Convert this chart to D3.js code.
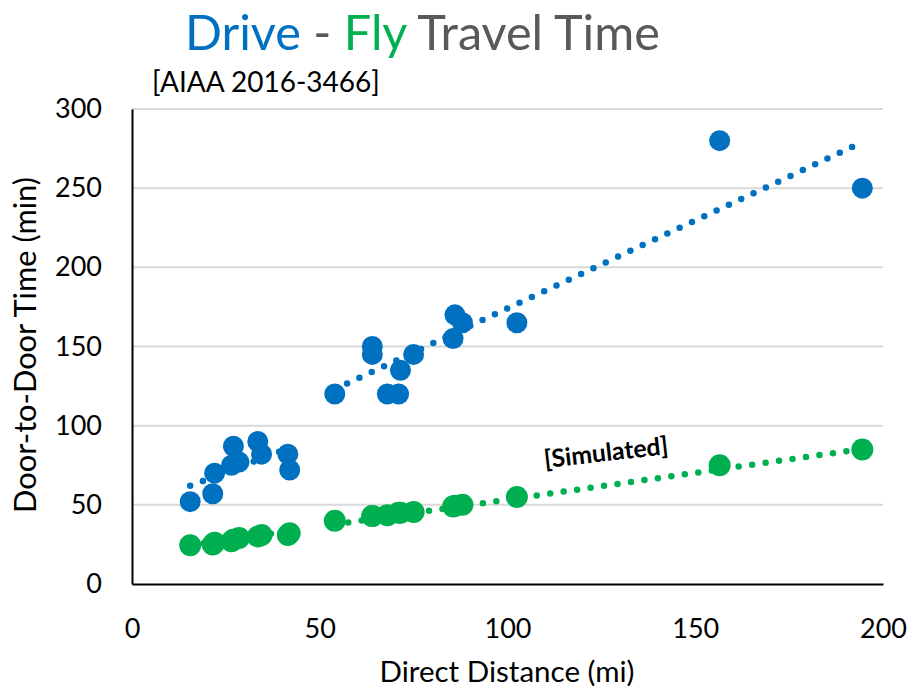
<!DOCTYPE html>
<html><head><meta charset="utf-8">
<script src="https://cdn.jsdelivr.net/npm/d3@7"></script>
<style>body{margin:0;background:#fff;} svg{display:block;font-family:Lato,"Open Sans",sans-serif;}</style>
</head><body><svg id="chart" width="911" height="688"></svg>
<script>
// ---- data ----
const distance  = [15.5,21.5,22,26.5,27,28.5,33.5,34.5,41.5,42,54,64,64,68,71,71.5,75,85.5,86,88,102.5,156.5,194.5];
const driveTime = [52,57,70,75,87,77,90,82,82,72,120,145,150,120,120,135,145,155,170,165,165,280,250];
const flyTime   = [24.5,25,26,27,28,29,30,31,31,32,40,43,43,43.5,45,45,45.5,49,49.5,50,55,75,85];
// trendline end points
const driveTrendShortX = [15.5,42],  driveTrendShortY = [62,86];
const driveTrendLongX  = [54,194.5], driveTrendLongY  = [123,279];
const flyTrendShortX   = [15.5,42],  flyTrendShortY   = [24.5,33.5];
const flyTrendLongX    = [54,194.5], flyTrendLongY    = [37.7,85.3];
const xTicks = [0,50,100,150,200];
const yTicks = [0,50,100,150,200,250,300];

const BLUE = "#0070C0", GREEN = "#00B050", GRAY = "#595959";
const svg = d3.select("#chart");
const L = 132, R = 883, T = 109, B = 584;
const x = d3.scaleLinear().domain([0,200]).range([L,R]);
const y = d3.scaleLinear().domain([0,300]).range([B,T]);

// gridlines
svg.append("g").selectAll("line").data(yTicks.filter(d=>d>0)).join("line")
  .attr("x1",L).attr("x2",R).attr("y1",d=>y(d)).attr("y2",d=>y(d))
  .attr("stroke","#d9d9d9").attr("stroke-width",2);

// axes
const yAxis = svg.append("g").attr("transform",`translate(${L},0)`)
  .call(d3.axisLeft(y).tickValues(yTicks).tickSize(0).tickPadding(30));
const xAxis = svg.append("g").attr("transform",`translate(0,${B})`)
  .call(d3.axisBottom(x).tickValues(xTicks).tickSize(0).tickPadding(35));
[yAxis,xAxis].forEach(a=>{
  a.select(".domain").attr("stroke","#000").attr("stroke-width",2);
  a.selectAll("text").attr("font-family","Lato").attr("font-size",27).attr("fill","#000");
});

// trendlines
const line = d3.line().x(d=>x(d[0])).y(d=>y(d[1]));
function trend(xs, ys, color){
  svg.append("path").datum(xs.map((v,i)=>[v,ys[i]]))
    .attr("d",line).attr("fill","none").attr("stroke",color)
    .attr("stroke-width",6.5).attr("stroke-linecap","round")
    .attr("stroke-dasharray","0 13.6");
}
trend(driveTrendShortX, driveTrendShortY, BLUE);
trend(driveTrendLongX, driveTrendLongY, BLUE);
trend(flyTrendShortX, flyTrendShortY, GREEN);
trend(flyTrendLongX, flyTrendLongY, GREEN);

// points
svg.append("g").selectAll("circle").data(distance).join("circle")
  .attr("cx",d=>x(d)).attr("cy",(d,i)=>y(driveTime[i])).attr("r",10.5).attr("fill",BLUE);
svg.append("g").selectAll("circle").data(distance).join("circle")
  .attr("cx",d=>x(d)).attr("cy",(d,i)=>y(flyTime[i])).attr("r",11).attr("fill",GREEN);

// fit helper
function fit(sel, w){
  const fs = +sel.attr("font-size");
  const cur = sel.node().getComputedTextLength();
  sel.attr("font-size", fs*w/cur);
}

// title
const title = svg.append("text").attr("x",185).attr("y",50).attr("font-size",40);
title.append("tspan").attr("fill",BLUE).text("Drive");
title.append("tspan").attr("fill",GRAY).text(" - ");
title.append("tspan").attr("fill",GREEN).text("Fly");
title.append("tspan").attr("fill",GRAY).text(" Travel Time");
fit(title, 475);

const sub = svg.append("text").attr("x",152).attr("y",92).attr("font-size",24).attr("fill","#000")
  .text("[AIAA 2016-3466]");
fit(sub, 228);

// axis titles
const xt = svg.append("text").attr("x",507).attr("y",682).attr("text-anchor","middle")
  .attr("font-size",24).attr("fill","#000").text("Direct Distance (mi)");
fit(xt, 255);
const yt = svg.append("text").attr("transform","translate(36,345) rotate(-90)").attr("text-anchor","middle")
  .attr("font-size",24).attr("fill","#000").text("Door-to-Door Time (min)");
fit(yt, 336);

// annotation
const ann = svg.append("text").attr("transform","translate(607,461) rotate(-6.5)").attr("text-anchor","middle")
  .attr("font-size",21).attr("font-weight","bold").attr("fill","#000").text("[Simulated]");
fit(ann, 125);
</script></body></html>
